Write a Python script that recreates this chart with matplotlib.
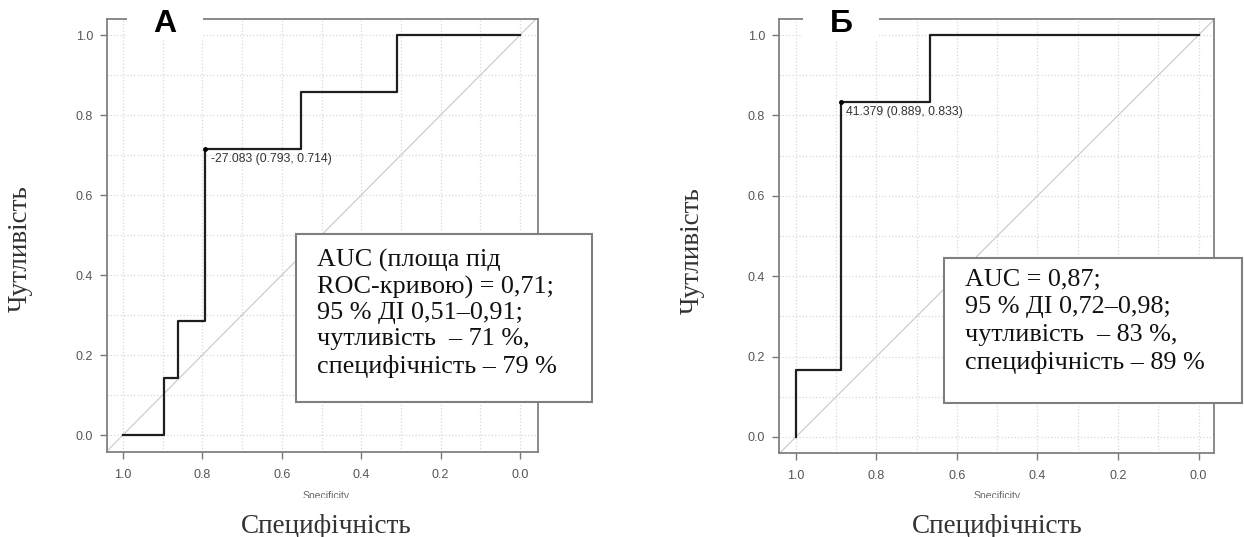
import matplotlib
matplotlib.use('Agg')
import matplotlib.pyplot as plt
from matplotlib.patches import Rectangle

plt.rcParams['font.family'] = ['Liberation Sans', 'DejaVu Sans']

# ROC corner points (specificity, sensitivity), drawn as steps
spec_a = [1.0, 0.897, 0.862, 0.793, 0.552, 0.310, 0.0]
sens_a = [0.0, 0.143, 0.286, 0.714, 0.857, 1.0, 1.0]
spec_b = [1.0, 1.0, 0.889, 0.667, 0.0]
sens_b = [0.0, 0.167, 0.833, 1.0, 1.0]

best_a = (0.793, 0.714)
best_b = (0.889, 0.833)
best_lbl_a = '-27.083 (0.793, 0.714)'
best_lbl_b = '41.379 (0.889, 0.833)'

ticks = [1.0, 0.8, 0.6, 0.4, 0.2, 0.0]
tick_lbl = ['1.0', '0.8', '0.6', '0.4', '0.2', '0.0']
grid_minor = [0.1, 0.3, 0.5, 0.7, 0.9]

box_a = ['AUC (площа під', 'ROC-кривою) = 0,71;', '95 % ДІ 0,51–0,91;',
         'чутливість  – 71 %,', 'специфічність – 79 %']
box_b = ['AUC = 0,87;', '95 % ДІ 0,72–0,98;',
         'чутливість  – 83 %,', 'специфічність – 89 %']

W, H = 1244, 537
fig = plt.figure(figsize=(W / 100, H / 100), dpi=100)
fig.patch.set_facecolor('white')

def fx(px):
    return px / W

def fy(py):
    return 1 - py / H

def panel(x0, x1, y0, y1, xl, yl, spec, sens, best, blbl):
    ax = fig.add_axes([fx(x0), fy(y1), fx(x1 - x0), (y1 - y0) / H])
    ax.set_xlim(*xl)
    ax.set_ylim(*yl)
    ax.set_xticks(ticks)
    ax.set_xticklabels(tick_lbl)
    ax.set_yticks(ticks)
    ax.set_yticklabels(tick_lbl)
    ax.set_xticks(grid_minor, minor=True)
    ax.set_yticks(grid_minor, minor=True)
    ax.grid(True, which='both', color='#d8d8d8', ls=':', lw=0.9)
    ax.tick_params(which='minor', length=0)
    ax.tick_params(axis='both', which='major', colors='#7a7a7a',
                   labelcolor='#555555', labelsize=9, length=5, width=1)
    ax.tick_params(axis='x', pad=7)
    ax.tick_params(axis='y', pad=5)
    for s in ax.spines.values():
        s.set_color('#808080')
        s.set_linewidth(1.3)
    ax.plot([1.2, -0.2], [-0.2, 1.2], color='#c8c8c8', lw=0.8)
    ax.plot(spec, sens, drawstyle='steps-post', color='#1e1e1e', lw=1.6)
    ax.plot(*best, 'o', color='black', ms=2.5)
    ax.annotate(blbl, xy=best, xytext=(4, -7), textcoords='offset points',
                fontsize=8.8, color='#333333', va='center', ha='left')
    return ax

panel(107, 538, 19, 452, (1.04, -0.045), (-0.0425, 1.04),
      spec_a, sens_a, best_a, best_lbl_a)
panel(779, 1214, 19, 453, (1.042, -0.0385), (-0.04, 1.04),
      spec_b, sens_b, best_b, best_lbl_b)

serif = ['Liberation Serif', 'DejaVu Serif']

# panel letters on white patches
for cx, let in [(165, 'А'), (841, 'Б')]:
    fig.patches.append(Rectangle((fx(cx - 38), fy(40)), fx(76), 30 / H,
                                 transform=fig.transFigure, fc='white',
                                 ec='none', zorder=5))
    fig.text(fx(cx), fy(24), let, fontsize=23, fontweight='bold',
             ha='center', va='center', zorder=6)

# axis titles
for cx, cy in [(20, 249), (692, 251)]:
    fig.text(fx(cx), fy(cy), 'Чутливість', family=serif, fontsize=19.5,
             rotation=90, ha='center', va='center', color='#333333')
for cx in [326, 997]:
    fig.text(fx(cx), fy(533), 'Специфічність', family=serif, fontsize=19.5,
             ha='center', va='baseline', color='#333333')
    fig.text(fx(cx), fy(491), 'Specificity', fontsize=7.5, ha='center',
             va='top', color='#666666')
    fig.patches.append(Rectangle((fx(cx - 40), fy(507)), fx(80), 9.5 / H,
                                 transform=fig.transFigure, fc='white',
                                 ec='none', zorder=5))

# AUC boxes
for (bx0, by0, bx1, by1, tx, ty, step, lines) in [
        (296, 234, 592, 402, 317, 253, 26.5, box_a),
        (944, 258, 1242, 403, 965, 273, 27.5, box_b)]:
    fig.patches.append(Rectangle((fx(bx0), fy(by1)), fx(bx1 - bx0),
                                 (by1 - by0) / H, transform=fig.transFigure,
                                 fc='white', ec='#7f7f7f', lw=1.5, zorder=5))
    for i, ln in enumerate(lines):
        fig.text(fx(tx), fy(ty + i * step - 4), ln, family=serif,
                 fontsize=18.8, ha='left', va='top', color='#111111', zorder=6)

fig.savefig('out.png', dpi=100, facecolor='white')
